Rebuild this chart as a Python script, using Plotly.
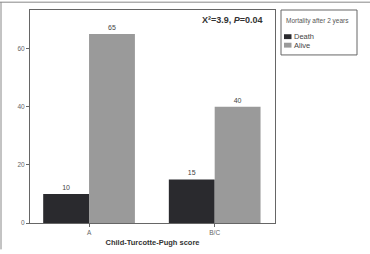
import plotly.graph_objects as go

categories = ["A", "B/C"]
death = [10, 15]
alive = [65, 40]
series_names = ["Death", "Alive"]
series_colors = ["#2a2a2e", "#9a9a9a"]
legend_title = "Mortality after 2 years"
y_ticks = [0, 20, 40, 60]

L, R, T, B = 30, 95, 9, 27
W, H = 370, 254
PW, PH = W - L - R, H - T - B


def px(x):
    return (x - L) / PW


def py(y):
    return (H - B - y) / PH


fig = go.Figure()
for name, vals, col in zip(series_names, [death, alive], series_colors):
    fig.add_trace(go.Bar(x=categories, y=vals, name=name, marker=dict(color=col, line=dict(width=0)),
                         text=[str(v) for v in vals], textposition="outside",
                         textfont=dict(size=7, color="#444444"), cliponaxis=False))

shapes = [
    dict(type="line", xref="paper", yref="paper", x0=px(0), x1=px(W), y0=py(1), y1=py(1),
         line=dict(color="#888888", width=1)),
    dict(type="line", xref="paper", yref="paper", x0=px(1), x1=px(1), y0=py(1), y1=py(H),
         line=dict(color="#888888", width=1)),
    # legend box
    dict(type="rect", xref="paper", yref="paper", x0=px(281), x1=px(357), y0=py(9), y1=py(55),
         line=dict(color="#666666", width=1), fillcolor="white"),
]
annotations = [
    dict(xref="paper", yref="paper", x=0.96, y=0.985, xanchor="right", yanchor="top",
         text="<b>X²=3.9, <i>P</i>=0.04</b>", showarrow=False,
         font=dict(size=9, color="#333333")),
    dict(xref="paper", yref="paper", x=px(283.5), y=py(20), xanchor="left", yanchor="middle",
         text=legend_title, showarrow=False, font=dict(size=6.5, color="#555555")),
]
for i, (name, col) in enumerate(zip(series_names, series_colors)):
    yc = 36.5 + i * 8.7
    shapes.append(dict(type="rect", xref="paper", yref="paper", x0=px(284), x1=px(291.5),
                       y0=py(yc - 2.7), y1=py(yc + 2.3), line=dict(width=0), fillcolor=col))
    annotations.append(dict(xref="paper", yref="paper", x=px(291.5), y=py(yc), xanchor="left", yanchor="middle",
                            text=name, showarrow=False, font=dict(size=7.5, color="#444444")))

fig.update_layout(
    width=W, height=H,
    margin=dict(l=L, r=R, t=T, b=B),
    paper_bgcolor="white", plot_bgcolor="white",
    barmode="group", bargap=0.27, bargroupgap=0,
    font=dict(family="Liberation Sans, Arial", size=7, color="#555555"),
    showlegend=False,
    xaxis=dict(
        range=[-0.47, 1.48], showline=True, mirror=True, linecolor="#666666", linewidth=1,
        ticks="outside", ticklen=3, tickcolor="#666666", tickfont=dict(size=6.5, color="#666666"),
        title=dict(text="<b>Child-Turcotte-Pugh score</b>", font=dict(size=7.5, color="#333333"), standoff=4),
    ),
    yaxis=dict(
        range=[0, 73.3], tickvals=y_ticks, showline=True, mirror=True, linecolor="#666666", linewidth=1,
        ticks="outside", ticklen=3, tickcolor="#666666", tickfont=dict(size=6.5, color="#666666"),
        showgrid=False, zeroline=False,
    ),
    annotations=annotations,
    shapes=shapes,
)

fig.write_html("out.html")
